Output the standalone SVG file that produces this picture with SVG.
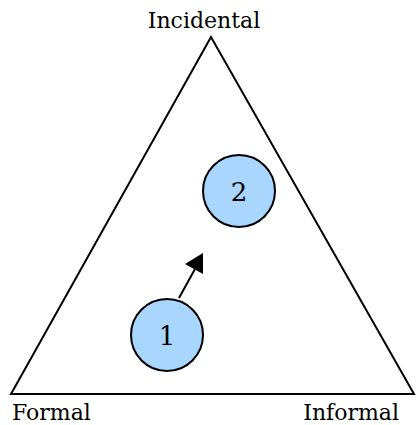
<svg xmlns="http://www.w3.org/2000/svg" width="416" height="425" viewBox="0 0 416 425">
<style>
.lbl{font-family:"DejaVu Serif","Liberation Serif",serif;font-size:22px;fill:#000}
.num{font-family:"DejaVu Serif","Liberation Serif",serif;font-size:26px;fill:#000;text-anchor:middle}
.node{fill:#a9d6ff;stroke:#000;stroke-width:2}
</style>
<g id="triangle">
<polygon points="211,37 11,394 414,394" fill="none" stroke="#000" stroke-width="2"/>
</g>
<g id="labels">
<text class="lbl" x="204" y="28" text-anchor="middle">Incidental</text>
<text class="lbl" x="12" y="420">Formal</text>
<text class="lbl" x="399" y="420" text-anchor="end">Informal</text>
</g>
<g id="node2">
<circle class="node" cx="239" cy="191" r="36"/>
<text class="num" x="239" y="201">2</text>
</g>
<g id="node1">
<circle class="node" cx="167" cy="335" r="36"/>
<text class="num" x="167" y="345">1</text>
</g>
<g id="connectors">
<line x1="179" y1="298" x2="195" y2="269" stroke="#000" stroke-width="2"/>
<polygon points="203,253 203,274 185,264" fill="#000"/>
</g>
</svg>
